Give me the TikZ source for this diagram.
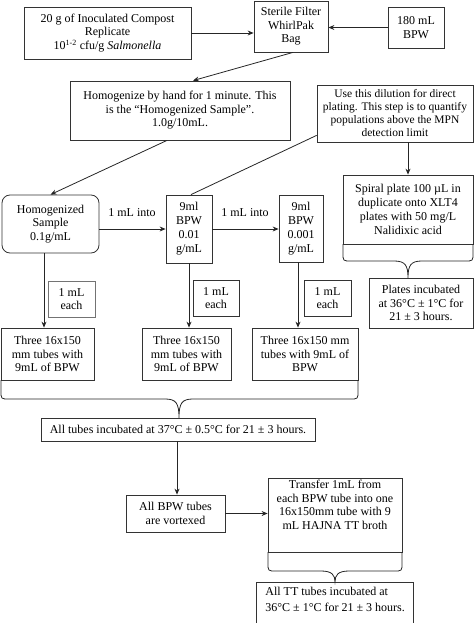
\documentclass[tikz,border=0pt]{standalone}
\usepackage{fontspec}
\setmainfont{Liberation Serif}
\usetikzlibrary{arrows.meta}
\newcommand{\bracepath}[6]{%
  \draw[ln] (#1,#3) -- (#1,{#4-8}) .. controls (#1,#4) .. ({#1+8},#4) -- ({#6-14},#4)
    .. controls ({#6-3},#4) and (#6,{#4+4}) .. (#6,#5)
    .. controls (#6,{#4+4}) and ({#6+3},#4) .. ({#6+14},#4) -- ({#2-8},#4)
    .. controls (#2,#4) .. (#2,{#4-8}) -- (#2,#3);}
\begin{document}
\begin{tikzpicture}[x=1pt,y=-1pt,
  box/.style={draw=black!80,line width=0.8pt,align=center,inner sep=1pt,font=\fontsize{12}{13.5}\selectfont},
  lbl/.style={align=center,inner sep=1pt,font=\fontsize{12}{13.5}\selectfont},
  arr/.style={draw=black!85,line width=0.8pt,-{Stealth[length=6pt,width=5pt]}},
  ln/.style={draw=black!85,line width=0.8pt}]
\useasboundingbox (0,0) rectangle (474,623);
% top row
\node[box,minimum width=167pt,minimum height=52pt] (src) at (107.5,33) {20 g of Inoculated Compost\\Replicate\\10\textsuperscript{1-2} cfu/g \textit{Salmonella}};
\node[box,minimum width=74pt,minimum height=51pt] (bag) at (291,26.5) {Sterile Filter\\WhirlPak\\Bag};
\node[box,minimum width=56pt,minimum height=41pt] (bpw) at (416,27.5) {180 mL\\BPW};
\node[box,minimum width=220pt,minimum height=59pt] (homog) at (180,110.5) {Homogenize by hand for 1 minute. This\\is the “Homogenized Sample”.\\1.0g/10mL.};
\node[box,minimum width=156pt,minimum height=57pt,font=\fontsize{11.5}{13}\selectfont] (use) at (395,113.5) {Use this dilution for direct\\plating. This step is to quantify\\populations above the MPN\\detection limit};
% dilution row
\node[box,rounded corners=8pt,minimum width=97pt,minimum height=58pt] (hs) at (50.5,224) {Homogenized\\Sample\\0.1g/mL};
\node[box,minimum width=46pt,minimum height=68pt,font=\fontsize{12}{14}\selectfont] (d1) at (189,229) {9ml\\BPW\\0.01\\g/mL};
\node[box,minimum width=44pt,minimum height=67pt,font=\fontsize{12}{14}\selectfont] (d2) at (301,228.5) {9ml\\BPW\\0.001\\g/mL};
\node[box,minimum width=130pt,minimum height=69pt,font=\fontsize{12}{14}\selectfont] (spiral) at (408,209.5) {Spiral plate 100 µL in\\duplicate onto XLT4\\plates with 50 mg/L\\Nalidixic acid};
\node[box,minimum width=104pt,minimum height=50pt] (plates) at (421,303) {Plates incubated\\at 36°C ± 1°C for\\21 ± 3 hours.};
\node[lbl] (l1) at (132,213) {1 mL into};
\node[lbl] (l2) at (245,213) {1 mL into};
\node[box,minimum width=47pt,minimum height=36pt,draw=black!55] (e1) at (71.5,299) {1 mL\\each};
\node[box,minimum width=46pt,minimum height=36pt] (e2) at (216,298) {1 mL\\each};
\node[box,minimum width=47pt,minimum height=36pt] (e3) at (327.5,298) {1 mL\\each};
% tubes
\node[box,minimum width=93pt,minimum height=52pt] (ta) at (47.5,354) {Three 16x150\\mm tubes with\\9mL of BPW};
\node[box,minimum width=89pt,minimum height=52pt] (tb) at (186.5,354) {Three 16x150\\mm tubes with\\9mL of BPW};
\node[box,minimum width=106pt,minimum height=52pt] (tc) at (305,354) {Three 16x150 mm\\tubes with 9mL of\\BPW};
\node[box,minimum width=274pt,minimum height=23pt] (all) at (178,429.5) {All tubes incubated at 37°C ± 0.5°C for 21 ± 3 hours.};
\node[box,minimum width=99pt,minimum height=37pt] (vort) at (175.5,513.5) {All BPW tubes\\are vortexed};
\node[box,minimum width=134pt,minimum height=74pt] (tr) at (335,515) {Transfer 1mL from\\each BPW tube into one\\16x150mm tube with 9\\mL HAJNA TT broth\\[7pt]};
\node[box,anchor=north west,align=left,inner xsep=9pt,inner ysep=5pt,minimum width=157pt,font=\fontsize{12}{16}\selectfont] (tt) at (256,582) {All TT tubes incubated at\\36°C ± 1°C for 21 ± 3 hours.\\ \strut\\ \strut};
% connectors
\draw[arr] (src.east) -- (src.east -| bag.west);
\draw[arr] (bpw.west) -- (bpw.west -| bag.east);
\draw[arr] ([xshift=2pt]bag.south) -- ([xshift=13pt]homog.north);
\draw[arr] ([xshift=-13pt]homog.south) -- (hs.north);
\draw[ln] ([yshift=7pt]use.south west) -- ([xshift=2pt]d1.north);
\draw[arr] (use.south -| spiral.north) -- (spiral.north);
\draw[arr] (d1.west -| hs.east) -- (d1.west);
\draw[arr] (d1.east) -- (d1.east -| d2.west);
\draw[arr] ([xshift=-6.5pt]hs.south) -- ([xshift=-6.5pt]hs.south |- ta.north);
\draw[arr] (d1.south) -- (d1.south |- tb.north);
\draw[arr] ([xshift=-3pt]d2.south) -- ([xshift=-3pt]d2.south |- tc.north);
\draw[arr] ([xshift=-1pt]all.south) -- ([xshift=-1pt]all.south |- vort.north);
\draw[arr] (vort.east) -- (vort.east -| tr.west);
% braces
\bracepath{343}{473}{244}{261}{278}{408}
\bracepath{268}{402}{552}{571}{582}{335}
\bracepath{1}{358}{380}{399}{418}{179}
\end{tikzpicture}
\end{document}
